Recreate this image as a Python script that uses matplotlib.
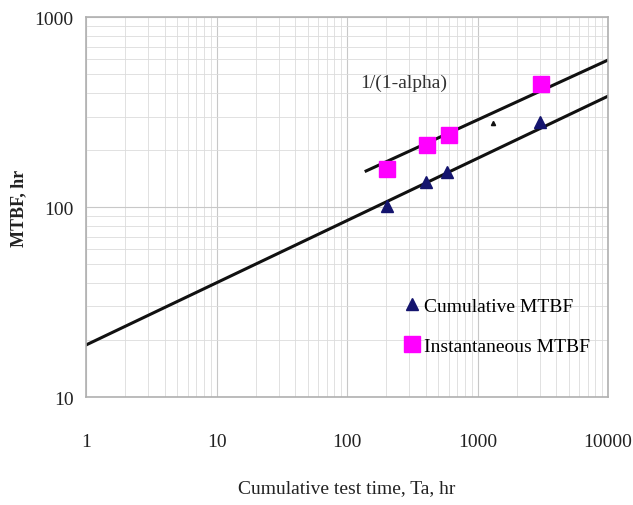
import matplotlib.pyplot as plt
from matplotlib.ticker import FixedLocator, FixedFormatter, NullFormatter

plt.rcParams["font.family"] = ["Liberation Serif", "DejaVu Serif"]

# cumulative MTBF points (test time hr, MTBF hr)
cum_t = [202, 403, 584, 3013]
cum_mtbf = [101, 135, 153, 280]
# the odd little dot near 1300 hr
dot_t = [1315]
dot_mtbf = [277]
# instantaneous MTBF points
inst_t = [202, 410, 605, 3070]
inst_mtbf = [158, 212, 239, 444]

# fitted lines (end points)
cum_line_t = [1, 10000]
cum_line_mtbf = [18.8, 384]
inst_line_t = [140, 10000]
inst_line_mtbf = [155, 595]

x_ticks = [1, 10, 100, 1000, 10000]
x_labels = ["1", "10", "100", "1000", "10000"]
y_ticks = [10, 100, 1000]
y_labels = ["10", "100", "1000"]

fig = plt.figure(figsize=(6.33, 5.06), dpi=100)
ax = fig.add_axes([0.136, 0.2134, 0.8245, 0.7506])

ax.set_xscale("log")
ax.set_yscale("log")
ax.set_xlim(1, 10000)
ax.set_ylim(10, 1000)

ax.grid(True, which="major", color="#c8c8c8", lw=0.8)
ax.grid(True, which="minor", color="#dcdcdc", lw=0.6)
ax.set_axisbelow(True)

ax.plot(cum_line_t, cum_line_mtbf, color="#111111", lw=2.2)
ax.plot(inst_line_t, inst_line_mtbf, color="#111111", lw=2.2)

ax.plot(cum_t, cum_mtbf, "^", color="#14146e", ms=8, ls="none", label="Cumulative MTBF")
ax.plot(dot_t, dot_mtbf, "^", color="#111111", ms=3, ls="none")
ax.plot(inst_t, inst_mtbf, "s", color="#ff00ff", ms=12, ls="none", label="Instantaneous MTBF")

ax.text(126, 455, "1/(1-alpha)", fontsize=14, color="#333333", va="center", ha="left")

ax.xaxis.set_major_locator(FixedLocator(x_ticks))
ax.xaxis.set_major_formatter(FixedFormatter(x_labels))
ax.xaxis.set_minor_formatter(NullFormatter())
ax.yaxis.set_major_locator(FixedLocator(y_ticks))
ax.yaxis.set_major_formatter(FixedFormatter(y_labels))
ax.yaxis.set_minor_formatter(NullFormatter())
ax.tick_params(which="both", length=0)
ax.tick_params(axis="x", pad=26, labelsize=14, labelcolor="#222222")
ax.tick_params(axis="y", pad=9, labelsize=14, labelcolor="#222222")

for s in ax.spines.values():
    s.set_color("#b0b0b0")
    s.set_linewidth(1.2)

ax.set_xlabel("Cumulative test time, Ta, hr", fontsize=14, color="#222222")
ax.set_ylabel("MTBF, hr", fontsize=13, fontweight="bold", color="#222222")
ax.xaxis.set_label_coords(0.5, -0.215)
ax.yaxis.set_label_coords(-0.113, 0.5)

leg = ax.legend(loc="lower right", bbox_to_anchor=(1.0, 0.065), frameon=False, fontsize=14,
                handletextpad=0.15, handlelength=1.0, labelspacing=1.15, markerscale=1.0)

fig.savefig("out.png", dpi=100)
